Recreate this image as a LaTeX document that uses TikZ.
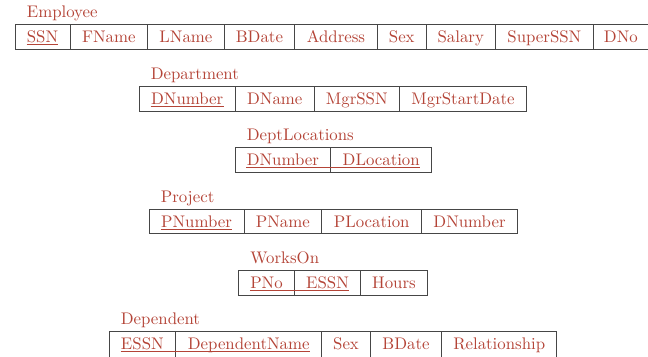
\documentclass[tikz,border=0pt]{standalone}
\definecolor{keyred}{RGB}{180,68,55}
\definecolor{gridgray}{RGB}{70,70,70}
\tikzset{
  tbl/.style={draw=gridgray, line width=0.5pt},
  txt/.style={inner sep=0pt, anchor=base, text=keyred, font=\fontsize{10}{12}\selectfont},
  ttl/.style={inner sep=0pt, anchor=base west, text=keyred, font=\fontsize{10}{12}\selectfont},
  uline/.style={draw=keyred, line width=0.45pt},
}
\begin{document}
\begin{tikzpicture}[x=0.595pt, y=-0.595pt]
\useasboundingbox (0,0) rectangle (648,356);
% ---------- Employee ----------
\node[ttl] (tEmp) at (26.5,17.5) {Employee};
\draw[tbl] (15,24.5) rectangle (649.5,49);
\foreach \x in {70,147.5,224.3,294.5,377.5,426,495.5,593.3} \draw[tbl] (\x,24.5) -- (\x,49);
\node[txt] (e1) at ({(15+70)/2},42.7) {SSN};
\node[txt] (e2) at ({(70+147.5)/2},42.7) {FName};
\node[txt] (e3) at ({(147.5+224.3)/2},42.7) {LName};
\node[txt] (e4) at ({(224.3+294.5)/2},42.7) {BDate};
\node[txt] (e5) at ({(294.5+377.5)/2},42.7) {Address};
\node[txt] (e6) at ({(377.5+426)/2},42.7) {Sex};
\node[txt] (e7) at ({(426+495.5)/2},42.7) {Salary};
\node[txt] (e8) at ({(495.5+593.3)/2},42.7) {SuperSSN};
\node[txt] (e9) at ({(593.3+648.5)/2},42.7) {DNo};
\draw[uline] ([yshift=-1.1pt]e1.base west) -- ([yshift=-1.1pt]e1.base east);
% ---------- Department ----------
\node[ttl] (tDep) at (150.5,79.5) {Department};
\draw[tbl] (139,86.7) rectangle (526.7,111);
\foreach \x in {235.3,314.3,399.3} \draw[tbl] (\x,86.7) -- (\x,111);
\node[txt] (d1) at ({(139+235.3)/2},104.9) {DNumber};
\node[txt] (d2) at ({(235.3+314.3)/2},104.9) {DName};
\node[txt] (d3) at ({(314.3+399.3)/2},104.9) {MgrSSN};
\node[txt] (d4) at ({(399.3+526.7)/2},104.9) {MgrStartDate};
\draw[uline] ([yshift=-1.1pt]d1.base west) -- ([yshift=-1.1pt]d1.base east);
% ---------- DeptLocations ----------
\node[ttl] (tDL) at (246.5,140.7) {DeptLocations};
\draw[tbl] (235,147.7) rectangle (431.7,172);
\draw[tbl] (330.7,147.7) -- (330.7,172);
\node[txt] (l1) at ({(235+330.7)/2},165.9) {DNumber};
\node[txt] (l2) at ({(330.7+431.7)/2},165.9) {DLocation};
\draw[uline] ([yshift=-1.1pt]l1.base west) -- ([yshift=-1.1pt]l2.base east);
% ---------- Project ----------
\node[ttl] (tPrj) at (160.5,202.3) {Project};
\draw[tbl] (149,209.3) rectangle (517.3,233.6);
\foreach \x in {244,321.7,421.7} \draw[tbl] (\x,209.3) -- (\x,233.6);
\node[txt] (p1) at ({(149+244)/2},227.5) {PNumber};
\node[txt] (p2) at ({(244+321.7)/2},227.5) {PName};
\node[txt] (p3) at ({(321.7+421.7)/2},227.5) {PLocation};
\node[txt] (p4) at ({(421.7+517.3)/2},227.5) {DNumber};
\draw[uline] ([yshift=-1.1pt]p1.base west) -- ([yshift=-1.1pt]p1.base east);
% ---------- WorksOn ----------
\node[ttl] (tWO) at (250,263.7) {WorksOn};
\draw[tbl] (238.7,270.7) rectangle (427.3,295);
\foreach \x in {294.3,360.7} \draw[tbl] (\x,270.7) -- (\x,295);
\node[txt] (w1) at ({(238.7+294.3)/2},288.9) {PNo};
\node[txt] (w2) at ({(294.3+360.7)/2},288.9) {ESSN};
\node[txt] (w3) at ({(360.7+427.3)/2},288.9) {Hours};
\draw[uline] ([yshift=-1.1pt]w1.base west) -- ([yshift=-1.1pt]w2.base east);
% ---------- Dependent ----------
\node[ttl] (tDp) at (120.5,324.7) {Dependent};
\draw[tbl] (109,331.7) rectangle (556.7,358.5);
\foreach \x in {175.7,321.7,370.3,441.7} \draw[tbl] (\x,331.7) -- (\x,358.5);
\node[txt] (n1) at ({(109+175.7)/2},349.9) {ESSN};
\node[txt] (n2) at ({(175.7+321.7)/2},349.9) {DependentName};
\node[txt] (n3) at ({(321.7+370.3)/2},349.9) {Sex};
\node[txt] (n4) at ({(370.3+441.7)/2},349.9) {BDate};
\node[txt] (n5) at ({(441.7+556.7)/2},349.9) {Relationship};
\draw[uline] ([yshift=-1.1pt]n1.base west) -- ([yshift=-1.1pt]n2.base east);
\end{tikzpicture}
\end{document}
